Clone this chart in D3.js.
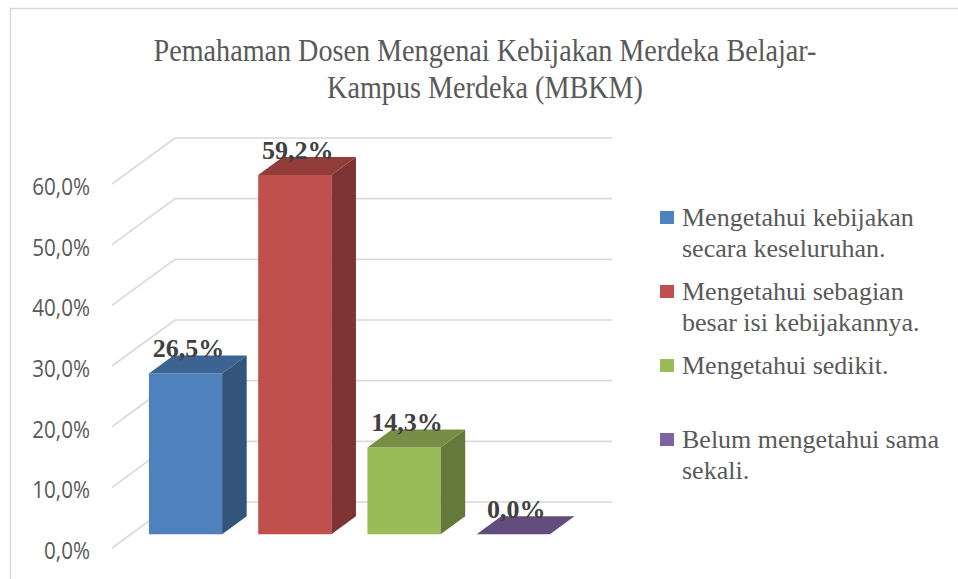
<!DOCTYPE html>
<html>
<head>
<meta charset="utf-8">
<script src="https://cdn.jsdelivr.net/npm/d3@7"></script>
<style>
  body { margin: 0; background: #fff; }
</style>
</head>
<body>
<script>
// chart data
const categories = [
  "Mengetahui kebijakan secara keseluruhan.",
  "Mengetahui sebagian besar isi kebijakannya.",
  "Mengetahui sedikit.",
  "Belum mengetahui sama sekali."
];
const values = [26.5, 59.2, 14.3, 0.0];
const colors = ["#4f81bd", "#c0504d", "#9bbb59", "#8064a2"];
const legendLines = [
  ["Mengetahui kebijakan", "secara keseluruhan."],
  ["Mengetahui sebagian", "besar isi kebijakannya."],
  ["Mengetahui sedikit."],
  ["Belum mengetahui sama", "sekali."]
];
const yTicks = [0, 10, 20, 30, 40, 50, 60];
const titleLines = ["Pemahaman Dosen Mengenai Kebijakan Merdeka Belajar-", "Kampus Merdeka (MBKM)"];

const width = 958, height = 579;
const svg = d3.select("body").append("svg")
    .attr("width", width)
    .attr("height", height);

const fmt = v => d3.format(".1f")(v).replace(".", ",") + "%";

// chart frame (cut off on the right and bottom)
svg.append("rect")
    .attr("x", 10.5).attr("y", 8.5)
    .attr("width", 1000).attr("height", 700)
    .attr("fill", "none")
    .attr("stroke", "#d9d9d9")
    .attr("stroke-width", 1.5);

// title, a bit narrow like the original
svg.append("g")
    .attr("transform", "translate(485,0) scale(0.88,1)")
    .append("text")
    .attr("y", 61)
    .attr("text-anchor", "middle")
    .attr("font-family", "'Liberation Serif', 'Times New Roman', serif")
    .attr("font-size", 32)
    .attr("fill", "#595959")
    .selectAll("tspan")
    .data(titleLines)
    .join("tspan")
    .attr("x", 0)
    .attr("dy", (d, i) => i ? 37 : 0)
    .text(d => d);

// back wall scales, depth goes toward the viewer
const x = d3.scaleBand().domain(categories).range([175, 612])
    .paddingInner(0.33).paddingOuter(0.165);
const y = d3.scaleLinear().domain([0, 60]).range([502, 138]);
const DX = 63, DY = 46;
const proj = (xb, v, t) => [xb - DX * (1 - t), y(v) + DY * (1 - t)];

// gridlines: diagonal on the side wall, then flat on the back wall
const grid = svg.append("g")
    .attr("fill", "none")
    .attr("stroke", "#d9d9d9")
    .attr("stroke-width", 1.6);
grid.selectAll("path")
    .data(yTicks)
    .join("path")
    .attr("d", d => {
      const f = proj(175, d, 0);
      return `M${f[0]},${f[1]}L175,${y(d)}L612,${y(d)}`;
    });

// axis labels
svg.append("g")
    .attr("transform", "translate(90,0) scale(0.86,1)")
    .selectAll("text")
    .data(yTicks)
    .join("text")
    .attr("x", 0)
    .attr("y", d => proj(175, d, 0)[1] + 2)
    .attr("text-anchor", "end")
    .attr("dominant-baseline", "central")
    .attr("font-family", "'Open Sans', 'Liberation Sans', sans-serif")
    .attr("font-size", 24)
    .attr("fill", "#595959")
    .text(d => fmt(d));

// 3D bars
const t0 = 0.3, t1 = 0.69;
const bars = svg.append("g");
categories.forEach((c, i) => {
  const v = values[i];
  const xl = x(c), xr = x(c) + x.bandwidth();
  const fbl = proj(xl, 0, t0), fbr = proj(xr, 0, t0);
  const ftl = proj(xl, v, t0), ftr = proj(xr, v, t0);
  const btl = proj(xl, v, t1), btr = proj(xr, v, t1), bbr = proj(xr, 0, t1);
  const base = d3.color(colors[i]);
  const poly = pts => "M" + pts.map(p => p.join(",")).join("L") + "Z";
  if (v > 0) {
    bars.append("path").attr("d", poly([fbl, fbr, ftr, ftl])).attr("fill", base.formatHex());
    bars.append("path").attr("d", poly([fbr, bbr, btr, ftr])).attr("fill", base.darker(1.2).formatHex());
  }
  bars.append("path").attr("d", poly([ftl, ftr, btr, btl])).attr("fill", base.darker(0.75).formatHex());

  svg.append("text")
      .attr("x", (fbl[0] + fbr[0]) / 2 + 3)
      .attr("y", ftl[1] - 16)
      .attr("text-anchor", "middle")
      .attr("font-family", "'Liberation Serif', 'Times New Roman', serif")
      .attr("font-weight", "bold")
      .attr("font-size", 26)
      .attr("fill", "#404040")
      .text(fmt(v));
});

// legend
const legend = svg.append("g")
    .attr("font-family", "'Liberation Serif', 'Times New Roman', serif")
    .attr("font-size", 26)
    .attr("fill", "#595959");
legendLines.forEach((lines, i) => {
  const by = 226 + i * 74;
  legend.append("rect")
      .attr("x", 660).attr("y", by - 15)
      .attr("width", 14).attr("height", 13)
      .attr("fill", colors[i]);
  legend.append("text")
      .attr("x", 682).attr("y", by)
      .selectAll("tspan")
      .data(lines)
      .join("tspan")
      .attr("x", 682)
      .attr("dy", (d, j) => j ? 31 : 0)
      .text(d => d);
});
</script>
</body>
</html>
